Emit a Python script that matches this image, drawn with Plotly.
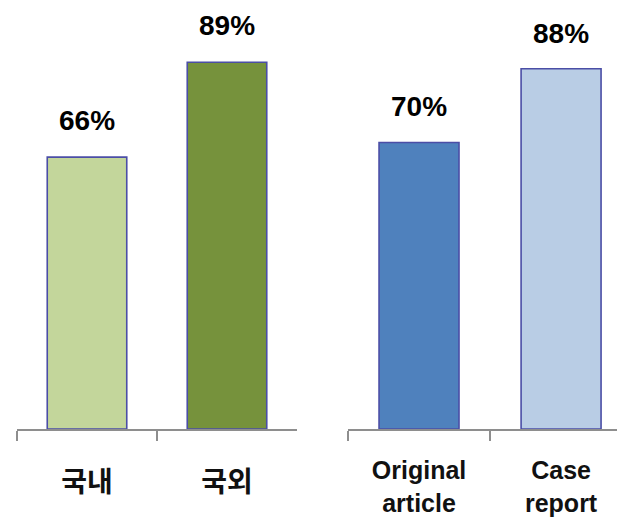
import plotly.graph_objects as go

left_categories = ["국내", "국외"]
left_values = [66, 89]
left_colors = ["#C3D69B", "#76923C"]

right_categories = ["Original<br>article", "Case<br>report"]
right_values = [70, 88]
right_colors = ["#4F81BD", "#B9CDE5"]

outline = "#4B4EA6"
axis_gray = "#8E8E8E"

# page body has an 8px default margin; compensate in figure coordinates
OFF = 8
W, H = 625, 522

fig = go.Figure()
fig.add_trace(go.Bar(
    x=left_categories, y=left_values, marker=dict(color=left_colors, line=dict(color=outline, width=1.6)),
    width=0.568, xaxis="x", yaxis="y", showlegend=False, hoverinfo="skip"))
fig.add_trace(go.Bar(
    x=right_categories, y=right_values, marker=dict(color=right_colors, line=dict(color=outline, width=1.6)),
    width=0.563, xaxis="x2", yaxis="y2", showlegend=False, hoverinfo="skip"))

annotations = []
for c, v in zip(left_categories, left_values):
    annotations.append(dict(x=c, y=v, xref="x", yref="y", text=f"{v}%", showarrow=False,
                            yanchor="bottom", yshift=19,
                            font=dict(family="Liberation Sans", size=28, color="#000000", weight="bold")))
for c, v in zip(right_categories, right_values):
    annotations.append(dict(x=c, y=v, xref="x2", yref="y2", text=f"{v}%", showarrow=False,
                            yanchor="bottom", yshift=18,
                            font=dict(family="Liberation Sans", size=28, color="#000000", weight="bold")))

axis_common = dict(showline=True, linecolor=axis_gray, linewidth=2, ticks="outside",
                   tickson="boundaries", ticklen=10, tickwidth=2, tickcolor=axis_gray,
                   showgrid=False, zeroline=False, fixedrange=True)

base = 429 - OFF
fig.update_layout(
    width=W, height=H,
    margin=dict(l=0, r=0, t=0, b=H - base),
    paper_bgcolor="white", plot_bgcolor="white",
    annotations=annotations,
    xaxis=dict(domain=[(17 - OFF) / W, (297 - OFF) / W], range=[-0.5, 1.5], anchor="y",
               tickfont=dict(family="Noto Sans CJK KR", size=28, color="#111111", weight="bold"),
               ticklabelstandoff=27, **axis_common),
    xaxis2=dict(domain=[(348 - OFF) / W, (625 - OFF) / W], range=[-0.5, 1.45], anchor="y2",
                tickfont=dict(family="Liberation Sans", size=25, color="#111111", weight="bold"),
                ticklabelstandoff=18, **axis_common),
    yaxis=dict(range=[0, base / 4.12], visible=False, fixedrange=True),
    yaxis2=dict(range=[0, base / 4.093], visible=False, fixedrange=True, anchor="x2"),
)

fig.write_html("out.html")
